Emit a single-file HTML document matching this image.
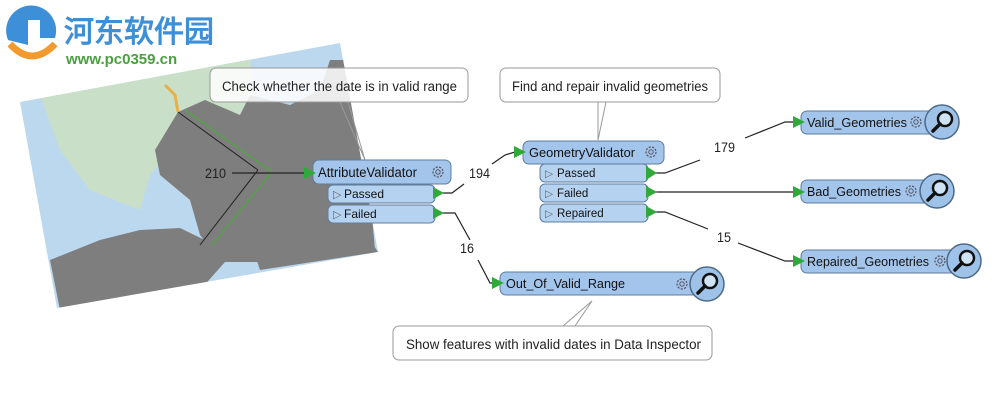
<!DOCTYPE html>
<html><head><meta charset="utf-8"><style>
html,body{margin:0;padding:0;background:#fff;width:1000px;height:401px;overflow:hidden}
svg{display:block}
text{font-family:"Liberation Sans",sans-serif}
</style></head><body>
<svg width="1000" height="401" viewBox="0 0 1000 401" xmlns="http://www.w3.org/2000/svg">
<defs>
<clipPath id="mc"><polygon points="20,102 340,43 378,252 57,308"/></clipPath>
<g id="gear"><circle r="5" fill="none" stroke="#556" stroke-width="1.2" stroke-dasharray="2.2 1.3"/><circle r="2.2" fill="none" stroke="#556" stroke-width="1"/></g>
<g id="mag"><circle r="17" fill="#9fc3e8" stroke="#4c6a88" stroke-width="1.5"/><circle cx="3" cy="-3" r="7" fill="#cfe3f6" stroke="#111" stroke-width="2.5"/><line x1="-2" y1="2" x2="-9" y2="9" stroke="#111" stroke-width="3.5" stroke-linecap="round"/></g>
</defs>
<!-- map -->
<g clip-path="url(#mc)">
<rect x="0" y="0" width="400" height="320" fill="#bcd8ef"/>
<polygon points="40,95 250,55 255,120 230,150 180,140 150,175 140,210 90,190 60,150" fill="#c9dfc8"/>
<polygon points="178,112 205,100 240,115 250,95 290,105 320,90 330,60 345,60 360,80 375,250 300,262 220,262 200,235 190,200 160,175 155,150" fill="#7e7e7e"/>
<polygon points="50,260 100,240 140,230 180,228 215,245 225,262 200,290 150,300 60,310" fill="#7e7e7e"/>
<polygon points="250,240 300,230 360,225 378,252 260,270" fill="#7e7e7e"/>
<line x1="178" y1="112" x2="258" y2="170" stroke="#222" stroke-width="1"/>
<line x1="258" y1="170" x2="200" y2="245" stroke="#222" stroke-width="1"/>
<line x1="185" y1="110" x2="272" y2="172" stroke="#4caa3c" stroke-width="1.2"/>
<line x1="272" y1="172" x2="212" y2="245" stroke="#4caa3c" stroke-width="1.2"/>
<path d="M165,85 L175,95 L178,112" stroke="#e5b24a" stroke-width="3" fill="none"/>
</g>
<!-- logo -->
<path d="M8,40 A25,25 0 1 1 55,38 L40,38 L40,20 L28,20 L28,45 Z" fill="#3d8fd8"/>
<path d="M10,44 Q32,68 55,44" stroke="#f39a2e" stroke-width="7" fill="none"/>
<text x="64" y="42" font-size="30" font-weight="bold" fill="#3d8fd8" font-family="'Noto Sans CJK SC',sans-serif">河东软件园</text>
<text x="66" y="64" font-size="15" font-weight="bold" fill="#4aa040" font-family="'Liberation Serif',serif">www.pc0359.cn</text>
<!-- callouts -->
<rect x="210" y="68" width="258" height="34" rx="6" fill="#fff" fill-opacity="0.85" stroke="#999"/>
<polyline points="340,102 365,160 348,102" fill="none" stroke="#999"/>
<text x="222" y="91" font-size="13.5" fill="#222" textLength="235" lengthAdjust="spacingAndGlyphs">Check whether the date is in valid range</text>
<rect x="500" y="68" width="220" height="34" rx="6" fill="#fff" stroke="#999"/>
<polyline points="598,102 598,140 606,102" fill="none" stroke="#999"/>
<text x="512" y="91" font-size="13.5" fill="#222" textLength="196" lengthAdjust="spacingAndGlyphs">Find and repair invalid geometries</text>
<rect x="393" y="326" width="319" height="34" rx="6" fill="#fff" stroke="#999"/>
<polyline points="563,326 592,301 575,326" fill="none" stroke="#999"/>
<text x="406" y="349" font-size="13.5" fill="#222" textLength="295" lengthAdjust="spacingAndGlyphs">Show features with invalid dates in Data Inspector</text>
<!-- connectors -->
<g stroke="#222" stroke-width="1.2" fill="none">
<line x1="232" y1="173" x2="305" y2="173"/>
<polyline points="440,193 452,193 464,184"/>
<polyline points="492,164 505,155 515,152"/>
<polyline points="440,213 455,213 470,240"/>
<polyline points="478,260 490,283 495,283"/>
<polyline points="655,173 665,173 700,160"/>
<polyline points="745,138 785,122 795,122"/>
<line x1="655" y1="192" x2="795" y2="192"/>
<polyline points="655,212 665,212 708,229"/>
<polyline points="738,243 785,261 795,261"/>
</g>
<g font-size="13.5" fill="#222">
<text x="205" y="178" textLength="21" lengthAdjust="spacingAndGlyphs">210</text>
<text x="469" y="178" textLength="21" lengthAdjust="spacingAndGlyphs">194</text>
<text x="460" y="253" textLength="14" lengthAdjust="spacingAndGlyphs">16</text>
<text x="714" y="152" textLength="21" lengthAdjust="spacingAndGlyphs">179</text>
<text x="717" y="242" textLength="14" lengthAdjust="spacingAndGlyphs">15</text>
</g>
<!-- AttributeValidator -->
<rect x="313" y="160" width="138" height="24" rx="6" fill="#a3c5eb" stroke="#5e7d9c"/>
<text x="318" y="177" font-size="13.5" fill="#111" textLength="99" lengthAdjust="spacingAndGlyphs">AttributeValidator</text>
<use href="#gear" x="438" y="172"/>
<rect x="328" y="185" width="107" height="18" rx="5" fill="#b5d2f0" stroke="#5e7d9c"/>
<rect x="328" y="205" width="107" height="18" rx="5" fill="#b5d2f0" stroke="#5e7d9c"/>
<text x="333" y="198" font-size="11" fill="#666">▷</text><text x="344" y="198" font-size="12" fill="#111">Passed</text>
<text x="333" y="218" font-size="11" fill="#666">▷</text><text x="344" y="218" font-size="12" fill="#111">Failed</text>
<!-- GeometryValidator -->
<rect x="523" y="141" width="141" height="23" rx="6" fill="#a3c5eb" stroke="#5e7d9c"/>
<text x="529" y="157" font-size="13" fill="#111" textLength="106" lengthAdjust="spacingAndGlyphs">GeometryValidator</text>
<use href="#gear" x="651" y="152"/>
<rect x="540" y="164" width="108" height="18" rx="5" fill="#b5d2f0" stroke="#5e7d9c"/>
<rect x="540" y="184" width="108" height="18" rx="5" fill="#b5d2f0" stroke="#5e7d9c"/>
<rect x="540" y="204" width="108" height="18" rx="5" fill="#b5d2f0" stroke="#5e7d9c"/>
<text x="545" y="177" font-size="10.5" fill="#666">▷</text><text x="557" y="177" font-size="11.5" fill="#111">Passed</text>
<text x="545" y="197" font-size="10.5" fill="#666">▷</text><text x="557" y="197" font-size="11.5" fill="#111">Failed</text>
<text x="545" y="217" font-size="10.5" fill="#666">▷</text><text x="557" y="217" font-size="11.5" fill="#111">Repaired</text>
<!-- writers -->
<rect x="801" y="111" width="135" height="23" rx="6" fill="#a3c5eb" stroke="#5e7d9c"/>
<text x="807" y="127" font-size="13" fill="#111" textLength="100" lengthAdjust="spacingAndGlyphs">Valid_Geometries</text>
<use href="#gear" x="916" y="122"/><use href="#mag" x="942" y="122"/>
<rect x="801" y="180" width="130" height="23" rx="6" fill="#a3c5eb" stroke="#5e7d9c"/>
<text x="807" y="196" font-size="13" fill="#111" textLength="94" lengthAdjust="spacingAndGlyphs">Bad_Geometries</text>
<use href="#gear" x="911" y="191"/><use href="#mag" x="937" y="191"/>
<rect x="801" y="250" width="155" height="23" rx="6" fill="#a3c5eb" stroke="#5e7d9c"/>
<text x="807" y="266" font-size="13" fill="#111" textLength="122" lengthAdjust="spacingAndGlyphs">Repaired_Geometries</text>
<use href="#gear" x="940" y="261"/><use href="#mag" x="964" y="261"/>
<rect x="500" y="272" width="200" height="23" rx="6" fill="#a3c5eb" stroke="#5e7d9c"/>
<text x="506" y="288" font-size="13" fill="#111" textLength="119" lengthAdjust="spacingAndGlyphs">Out_Of_Valid_Range</text>
<use href="#gear" x="682" y="284"/><use href="#mag" x="707" y="284"/>
<!-- green ports -->
<g fill="#2faa3a">
<polygon points="304,167 316,173 304,179"/>
<polygon points="433,187 444,193 433,199"/>
<polygon points="433,207 444,213 433,219"/>
<polygon points="514,146 526,152 514,158"/>
<polygon points="646,166 657,173 646,180"/>
<polygon points="646,186 657,192 646,198"/>
<polygon points="646,206 657,212 646,218"/>
<polygon points="793,116 805,122 793,128"/>
<polygon points="793,186 805,192 793,198"/>
<polygon points="793,255 805,261 793,267"/>
<polygon points="492,277 504,283 492,289"/>
</g>
</svg>
</body></html>
